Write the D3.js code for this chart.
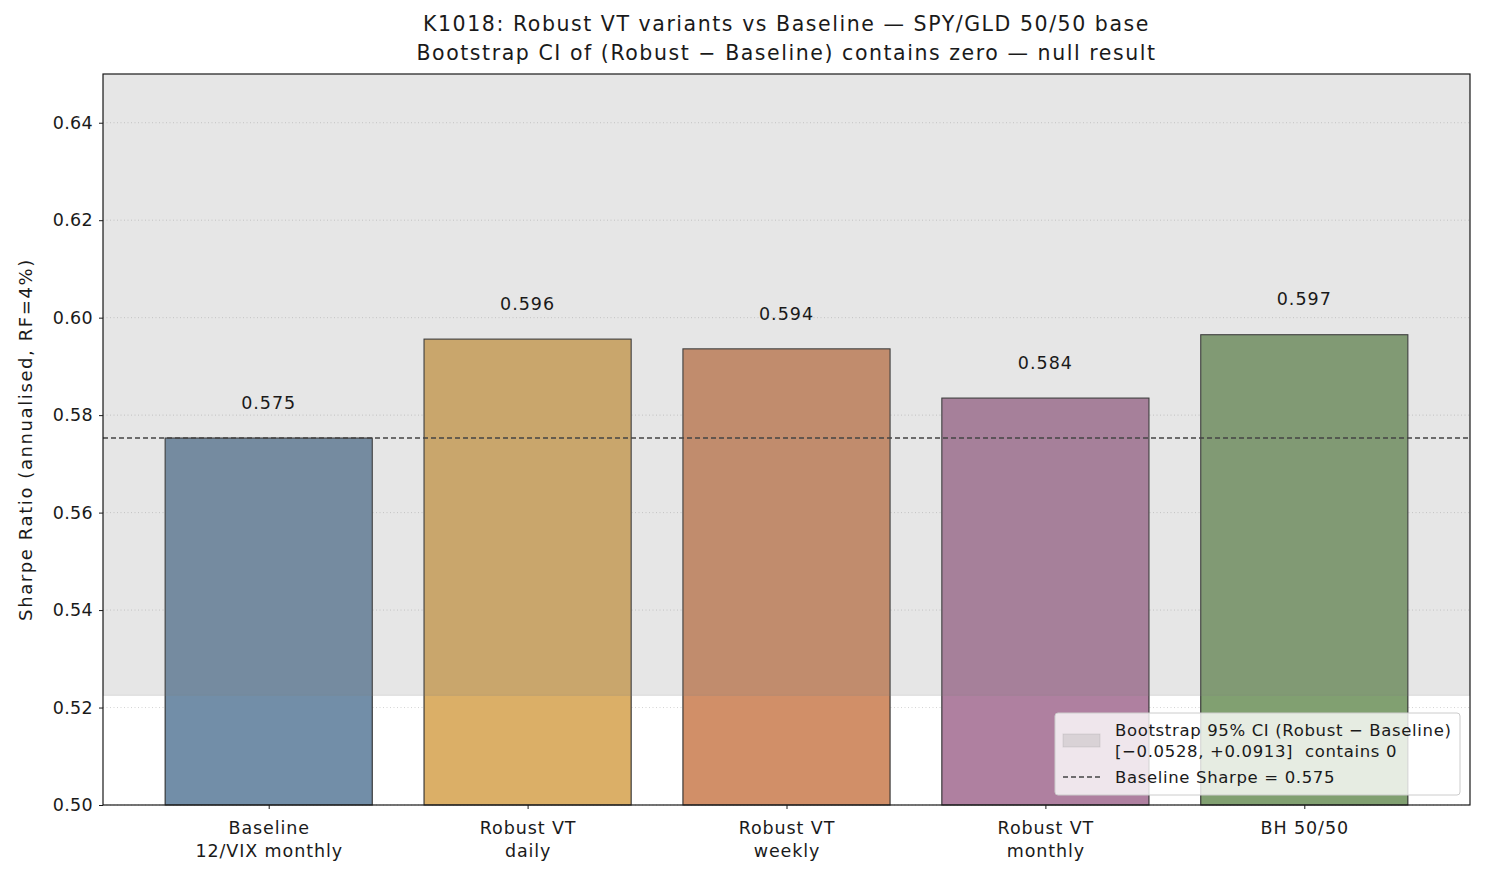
<!DOCTYPE html>
<html>
<head>
<meta charset="utf-8">
<script src="https://cdn.jsdelivr.net/npm/d3@7/dist/d3.min.js"></script>
<style>
  body { margin: 0; background: #fff; }
  text { font-family: "DejaVu Sans", sans-serif; fill: #1a1a1a; }
</style>
</head>
<body>
<svg id="chart" width="1485" height="878"></svg>
<script>
// data
var categories = [["Baseline", "12/VIX monthly"], ["Robust VT", "daily"], ["Robust VT", "weekly"], ["Robust VT", "monthly"], ["BH 50/50"]];
var sharpe = [0.5753, 0.5956, 0.5936, 0.5835, 0.5965];
var barColors = ["#728ea8", "#dbaf67", "#d18f68", "#af80a0", "#81a071"];
var yTicks = [0.50, 0.52, 0.54, 0.56, 0.58, 0.60, 0.62, 0.64];
var baselineSharpe = 0.5753;
var ciLow = -0.0528, ciHigh = 0.0913;
var titleLines = ["K1018: Robust VT variants vs Baseline \u2014 SPY/GLD 50/50 base",
                  "Bootstrap CI of (Robust \u2212 Baseline) contains zero \u2014 null result"];

var svg = d3.select("#chart"),
    margin = {left: 103, right: 15, top: 74, bottom: 73},
    width = 1485 - margin.left - margin.right,
    height = 878 - margin.top - margin.bottom;

var x = d3.scaleLinear().domain([-0.64, categories.length - 1 + 0.64]).range([0, width]);
var y = d3.scaleLinear().domain([0.50, 0.65]).range([height, 0]);
var bw = x(0.8) - x(0);

var g = svg.append("g").attr("transform", "translate(" + margin.left + "," + margin.top + ")");

svg.append("defs").append("clipPath").attr("id", "plotclip")
  .append("rect").attr("width", width).attr("height", height);

// grid
g.append("g").selectAll("line").data(yTicks).enter().append("line")
  .attr("x1", 0).attr("x2", width)
  .attr("y1", d => y(d)).attr("y2", d => y(d))
  .attr("stroke", "#c8c8c8").attr("stroke-width", 0.8)
  .attr("stroke-dasharray", "1,2.5");

// bars
g.append("g").selectAll("rect").data(sharpe).enter().append("rect")
  .attr("x", (d, i) => x(i) - bw / 2)
  .attr("y", d => y(d))
  .attr("width", bw)
  .attr("height", d => height - y(d))
  .attr("fill", (d, i) => barColors[i])
  .attr("stroke", "#2e2e2e").attr("stroke-width", 1.1);

// bootstrap CI span, on top of the bars
g.append("rect").attr("clip-path", "url(#plotclip)")
  .attr("x", 0).attr("width", width)
  .attr("y", y(baselineSharpe + ciHigh))
  .attr("height", y(baselineSharpe + ciLow) - y(baselineSharpe + ciHigh))
  .attr("fill", "#808080").attr("fill-opacity", 0.2)
  .attr("stroke", "#808080").attr("stroke-opacity", 0.2);

// baseline line
g.append("line")
  .attr("x1", 0).attr("x2", width)
  .attr("y1", y(baselineSharpe)).attr("y2", y(baselineSharpe))
  .attr("stroke", "#444").attr("stroke-width", 1.4)
  .attr("stroke-dasharray", "5,3");

// value labels
g.append("g").selectAll("text").data(sharpe).enter().append("text")
  .attr("x", (d, i) => x(i))
  .attr("y", d => y(d + 0.006))
  .attr("text-anchor", "middle")
  .style("font-size", "17.5px").style("letter-spacing", "1px")
  .text(d => d.toFixed(3));

// axes
var yAxis = g.append("g").call(d3.axisLeft(y).tickValues(yTicks).tickFormat(d3.format(".2f")).tickSize(4).tickPadding(6));
yAxis.select(".domain").remove();
yAxis.selectAll("text").style("font-size", "17.5px").style("letter-spacing", "0.3px").attr("fill", "#1a1a1a");
yAxis.selectAll("line").attr("stroke", "#1a1a1a");

var xAxis = g.append("g").attr("transform", "translate(0," + height + ")")
  .call(d3.axisBottom(x).tickValues(d3.range(categories.length)).tickFormat("").tickSize(4));
xAxis.select(".domain").remove();
xAxis.selectAll("line").attr("stroke", "#1a1a1a");
xAxis.selectAll(".tick").each(function(d) {
  var t = d3.select(this).append("text").attr("text-anchor", "middle")
    .style("font-size", "17.5px").style("letter-spacing", "0.9px").attr("fill", "#1a1a1a");
  categories[d].forEach(function(s, k) {
    t.append("tspan").attr("x", 0).attr("y", 29 + k * 22.5).text(s);
  });
});

// frame
g.append("rect").attr("width", width).attr("height", height)
  .attr("fill", "none").attr("stroke", "#1a1a1a").attr("stroke-width", 1.2);

// y label
svg.append("text")
  .attr("transform", "translate(32," + (margin.top + height / 2) + ") rotate(-90)")
  .attr("text-anchor", "middle").style("font-size", "18px").style("letter-spacing", "1.6px")
  .text("Sharpe Ratio (annualised, RF=4%)");

// title
svg.append("g").selectAll("text").data(titleLines).enter().append("text")
  .attr("x", margin.left + width / 2)
  .attr("y", (d, i) => 31 + i * 29)
  .attr("text-anchor", "middle").style("font-size", "20.5px").style("letter-spacing", "1.55px")
  .text(d => d);

// legend
var lg = svg.append("g").attr("transform", "translate(1055,713)");
lg.append("rect").attr("width", 405).attr("height", 82).attr("rx", 3)
  .attr("fill", "#fff").attr("fill-opacity", 0.8)
  .attr("stroke", "#cccccc").attr("stroke-width", 1);
lg.append("rect").attr("x", 8).attr("y", 21).attr("width", 37).attr("height", 13)
  .attr("fill", "#808080").attr("fill-opacity", 0.2)
  .attr("stroke", "#808080").attr("stroke-opacity", 0.2);
var lt = lg.append("text").style("font-size", "16.5px").style("letter-spacing", "0.65px");
lt.append("tspan").attr("x", 60).attr("y", 23).text("Bootstrap 95% CI (Robust \u2212 Baseline)");
lt.append("tspan").attr("x", 60).attr("y", 44).text("[\u22120.0528, +0.0913]\u00a0 contains 0");
lg.append("line").attr("x1", 8).attr("x2", 45).attr("y1", 64).attr("y2", 64)
  .attr("stroke", "#444").attr("stroke-width", 1.4).attr("stroke-dasharray", "5,3");
lg.append("text").attr("x", 60).attr("y", 70).style("font-size", "16.5px").style("letter-spacing", "0.65px")
  .text("Baseline Sharpe = " + baselineSharpe.toFixed(3));
</script>
</body>
</html>
